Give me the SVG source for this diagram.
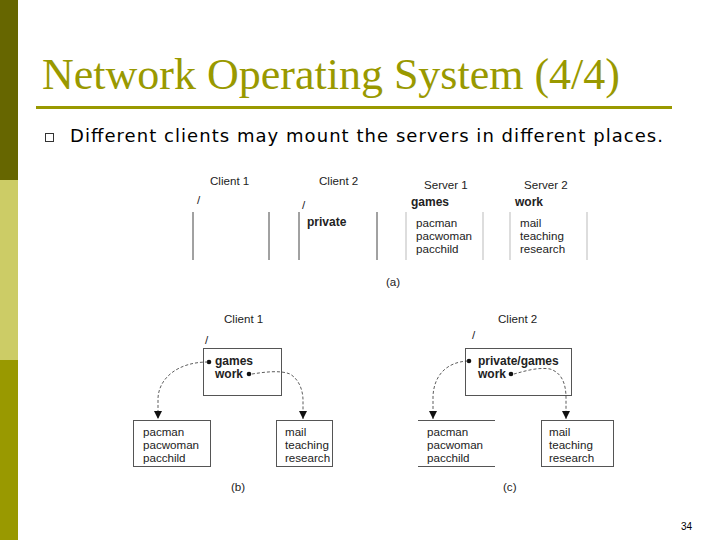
<svg xmlns="http://www.w3.org/2000/svg" width="720" height="540" viewBox="0 0 720 540">
<style>
.t{font-family:"Liberation Sans",Arial,sans-serif;font-size:11.6px;fill:#222}
.b{font-weight:bold;font-size:12px}
.bx{fill:none;stroke:#555;stroke-width:1}
.lt{stroke:#bbb;stroke-width:1}
.dk{stroke:#444;stroke-width:1}
.dash{fill:none;stroke:#333;stroke-width:0.8;stroke-dasharray:3 2}
</style>
<defs>
<marker id="ah" viewBox="0 0 10 10" refX="10" refY="5" markerWidth="8" markerHeight="8" markerUnits="userSpaceOnUse" orient="auto">
<path d="M0,0 L10,5 L0,10 z" fill="#111"/>
</marker>
</defs>
<rect width="720" height="540" fill="#fff"/>
<rect x="0" y="0" width="18" height="180" fill="#666600"/>
<rect x="0" y="180" width="18" height="180" fill="#cccc66"/>
<rect x="0" y="360" width="18" height="180" fill="#999900"/>
<text x="42" y="89" font-family="Liberation Serif,Times New Roman,serif" font-size="44" fill="#999900">Network Operating System (4/4)</text>
<rect x="36" y="106" width="636" height="3" fill="#999900"/>
<rect x="45.5" y="133.5" width="8" height="8" fill="none" stroke="#333" stroke-width="1"/>
<text x="70" y="142" font-family="DejaVu Sans,Verdana,sans-serif" font-size="18" fill="#000" textLength="593" lengthAdjust="spacing">Different clients may mount the servers in different places.</text>

<g id="a-client1">
<text class="t" x="210" y="185">Client 1</text>
<text class="t" x="197" y="204">/</text>
<line class="dk" x1="193" y1="212" x2="193" y2="260"/>
<line class="dk" x1="269" y1="212" x2="269" y2="260"/>
</g>
<g id="a-client2">
<text class="t" x="319" y="185">Client 2</text>
<text class="t" x="302" y="209">/</text>
<text class="t b" x="307" y="226">private</text>
<line class="dk" x1="299" y1="212" x2="299" y2="260"/>
<line class="dk" x1="377" y1="212" x2="377" y2="260"/>
</g>
<g id="a-server1">
<text class="t" x="424" y="189">Server 1</text>
<text class="t b" x="411" y="206">games</text>
<line class="lt" x1="406" y1="212" x2="406" y2="260"/>
<line class="lt" x1="483" y1="212" x2="483" y2="260"/>
<text class="t" x="416" y="227">pacman</text>
<text class="t" x="416" y="240">pacwoman</text>
<text class="t" x="416" y="253">pacchild</text>
</g>
<g id="a-server2">
<text class="t" x="524" y="189">Server 2</text>
<text class="t b" x="515" y="206">work</text>
<line class="lt" x1="510" y1="212" x2="510" y2="260"/>
<line class="lt" x1="587" y1="212" x2="587" y2="260"/>
<text class="t" x="520" y="227">mail</text>
<text class="t" x="520" y="240">teaching</text>
<text class="t" x="520" y="253">research</text>
</g>
<text class="t" x="386" y="286">(a)</text>

<g id="b-client1">
<text class="t" x="224" y="323">Client 1</text>
<text class="t" x="205" y="344">/</text>
<rect class="bx" x="203.5" y="348.5" width="78" height="47"/>
<text class="t b" x="215" y="365">games</text>
<text class="t b" x="215" y="378">work</text>
<circle cx="209" cy="362" r="2.3" fill="#111"/>
<circle cx="249" cy="374" r="2.3" fill="#111"/>
</g>
<g id="b-server1">
<rect class="bx" x="133.5" y="420.5" width="77" height="46"/>
<text class="t" x="143" y="436">pacman</text>
<text class="t" x="143" y="449">pacwoman</text>
<text class="t" x="143" y="462">pacchild</text>
</g>
<g id="b-server2">
<rect class="bx" x="276.5" y="420.5" width="56" height="46"/>
<text class="t" x="285" y="436">mail</text>
<text class="t" x="285" y="449">teaching</text>
<text class="t" x="285" y="462">research</text>
</g>
<text class="t" x="231" y="491">(b)</text>

<g id="c-client2">
<text class="t" x="498" y="323">Client 2</text>
<text class="t" x="472" y="339">/</text>
<rect class="bx" x="465.5" y="348.5" width="106" height="47"/>
<text class="t b" x="478" y="365">private/games</text>
<text class="t b" x="478" y="378">work</text>
<circle cx="469" cy="361" r="2.3" fill="#111"/>
<circle cx="511" cy="374" r="2.3" fill="#111"/>
</g>
<g id="c-server1">
<line class="bx" x1="418" y1="420.5" x2="495" y2="420.5"/>
<line class="bx" x1="418" y1="466.5" x2="495" y2="466.5"/>
<text class="t" x="427" y="436">pacman</text>
<text class="t" x="427" y="449">pacwoman</text>
<text class="t" x="427" y="462">pacchild</text>
</g>
<g id="c-server2">
<rect class="bx" x="541.5" y="420.5" width="72" height="46"/>
<text class="t" x="549" y="436">mail</text>
<text class="t" x="549" y="449">teaching</text>
<text class="t" x="549" y="462">research</text>
</g>
<text class="t" x="503" y="491">(c)</text>

<g id="connectors">
<path class="dash" d="M208,362 C178,362 159,378 158,398 L158,419" marker-end="url(#ah)"/>
<path class="dash" d="M252,374 C265,372 280,370 290,374 C300,380 303,392 303,400 L303,419" marker-end="url(#ah)"/>
<path class="dash" d="M468,361 C446,362 434,376 433,396 L433,419" marker-end="url(#ah)"/>
<path class="dash" d="M514,374 C525,371 538,367 550,369 C563,373 566,386 566,398 L566,419" marker-end="url(#ah)"/>
</g>

<text x="681" y="530" font-family="Liberation Sans,Arial,sans-serif" font-size="10" fill="#000">34</text>
</svg>
